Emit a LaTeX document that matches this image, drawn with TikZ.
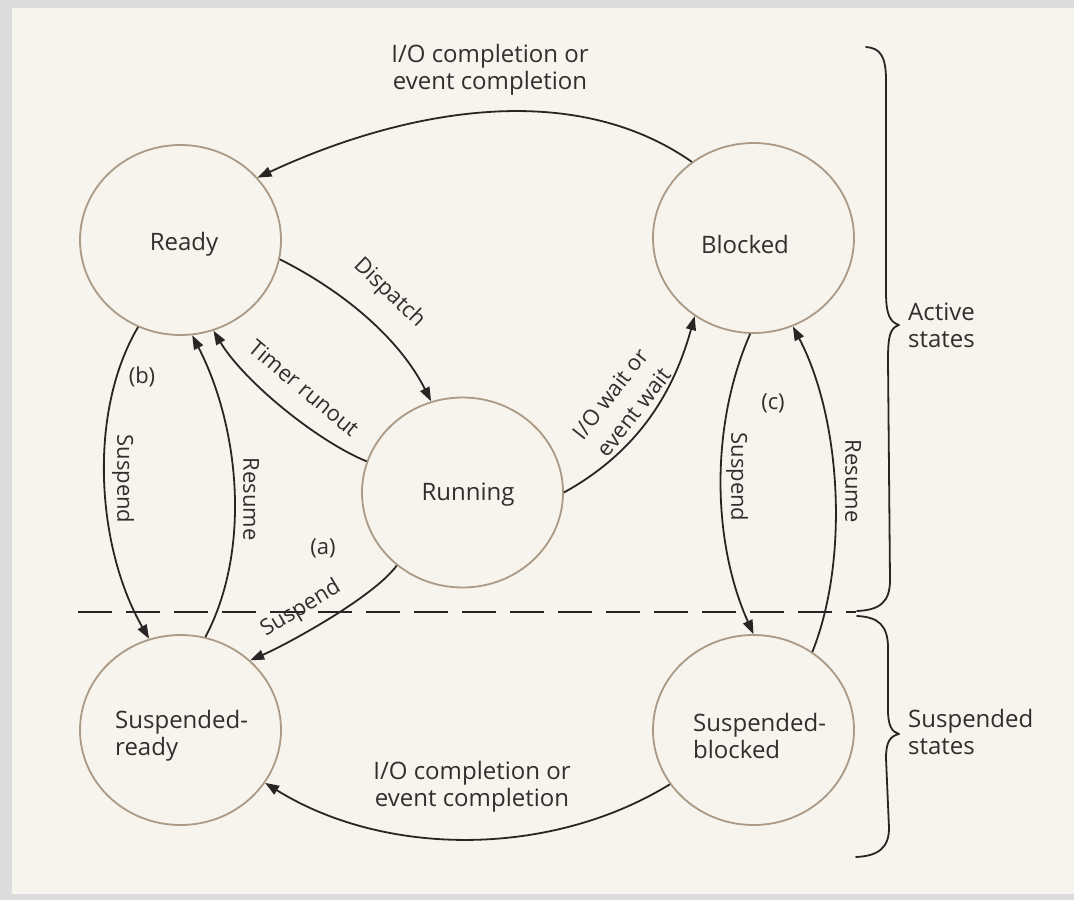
\documentclass[tikz,border=0pt]{standalone}
\usepackage{fontspec}
\setmainfont{Open Sans}
\usetikzlibrary{arrows.meta,shapes.geometric}
\definecolor{paper}{HTML}{F7F3ED}
\definecolor{frame}{HTML}{DCDCDC}
\definecolor{ink}{HTML}{2B2424}
\definecolor{txt}{HTML}{332D2D}
\definecolor{rim}{HTML}{AA9A86}
\begin{document}
\begin{tikzpicture}[x=1pt,y=-1pt,
  state/.style={ellipse, draw=rim, line width=1.8pt, fill=paper,
    minimum width=201pt, minimum height=190pt, inner sep=0pt},
  lbl/.style={text=txt, font=\fontsize{22}{26}\selectfont, inner sep=0pt},
  biglbl/.style={lbl, font=\fontsize{24}{27}\selectfont},
  arr/.style={draw=ink, line width=1.8pt, -{Triangle[length=14pt,width=10pt]}},
  brace/.style={draw=ink, line width=1.8pt, line cap=round, line join=round},
  divider/.style={draw=ink, line width=1.8pt, dash pattern=on 34pt off 14pt}]
% sheet
\fill[frame] (0,0) rectangle (1074,900);
\fill[paper] (12,8) rectangle (1074,894);
\useasboundingbox (0,0) rectangle (1074,900);

% states
\node[state] (ready)    at (180.5,240)   {};
\node[state] (blocked)  at (753.5,238)   {};
\node[state] (running)  at (462.5,492.5) {};
\node[state] (sready)   at (180.5,730)   {};
\node[state] (sblocked) at (753.5,730)   {};

\node[biglbl] (readytxt)   at (184,244) {Ready};
\node[biglbl] (blockedtxt) at (745,244) {Blocked};
\node[biglbl] (runningtxt) at (468,495) {Running};
\node[biglbl, anchor=west, align=left] (sreadytxt)   at (115,736) {Suspended-\\ready};
\node[biglbl, anchor=west, align=left] (sblockedtxt) at (693,736) {Suspended-\\blocked};

% transitions
\draw[arr] (blocked.129) .. controls (567,74.5) and (393,114.5) .. (ready.39);
\draw[arr] (ready.-11) .. controls (344,291.5) and (399.5,338.7) .. (running.109);
\draw[arr] (running.162) .. controls (315,440) and (243,380) .. (ready.-70);
\draw[arr] (running.-132) .. controls (373.4,597.4) and (286.4,644.6) .. (sready.45);
\draw[arr] (running.0) .. controls (630,456) and (671,402) .. (blocked.-127);
\draw[arr] (ready.-116) .. controls (87,413.6) and (97,548.4) .. (sready.109);
\draw[arr] (sready.75) .. controls (252,549) and (239,426) .. (ready.-83);
\draw[arr] (blocked.-92) .. controls (709,428) and (713,544) .. (sblocked.90);
\draw[arr] (sblocked.53) .. controls (849.5,559) and (841,418) .. (blocked.-66);
\draw[arr] (sblocked.-147) .. controls (550,858) and (384,857) .. (sready.-32);

% transition labels
\node[biglbl, align=center] (toplbl) at (490,70) {I/O completion or\\event completion};
\node[biglbl, align=center] (botlbl) at (472,787) {I/O completion or\\event completion};
\node[lbl, rotate=-44] (dispatchlbl) at (389,293) {Dispatch};
\node[lbl, rotate=-40] (timerlbl) at (304,388) {Timer runout};
\node[lbl, rotate=31] (suspalbl) at (301,609) {Suspend};
\node[lbl] (alabel) at (323,548) {(a)};
\node[lbl, rotate=52, align=center, font=\fontsize{22}{30}\selectfont] (waitlbl) at (622,403) {I/O wait or\\event wait};
\node[lbl, rotate=-90] (suspblbl) at (123,479) {Suspend};
\node[lbl, rotate=-90] (resumeblbl) at (251,499) {Resume};
\node[lbl] (blabel) at (142,377) {(b)};
\node[lbl, rotate=-90] (suspclbl) at (737,477) {Suspend};
\node[lbl, rotate=-90] (resumeclbl) at (853,481) {Resume};
\node[lbl] (clabel) at (773,403) {(c)};

% active / suspended divider
\coordinate (divl) at (78,612);
\coordinate (divr) at (856,612);
\draw[divider] (divl) -- (divr);

% braces
\draw[brace] (866,47) .. controls (880,48) and (886,56) .. (886,80) -- (886,292)
  .. controls (886,315) and (890,322) .. (899,325)
  .. controls (890,328) and (888,336) .. (888,360) -- (890,580)
  .. controls (890,602) and (880,610) .. (857,611);
\draw[brace] (857,616) .. controls (878,617) and (888,625) .. (888,648) -- (888,710)
  .. controls (888,726) and (892,732) .. (899,734)
  .. controls (890,736) and (886,742) .. (886,758) -- (889,828)
  .. controls (889,848) and (878,856) .. (856,857);

\node[biglbl, anchor=west, align=left] (activetxt) at (908,325) {Active\\states};
\node[biglbl, anchor=west, align=left] (susptxt)   at (908,732) {Suspended\\states};
\end{tikzpicture}
\end{document}
